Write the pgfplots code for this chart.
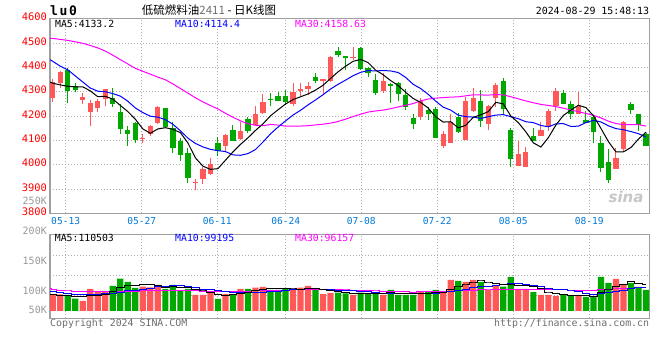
\documentclass[border=0pt]{standalone}
\usepackage{fontspec}
\setmainfont{DejaVu Sans Mono}
\newfontfamily\cjk{Noto Sans CJK SC}
\newfontfamily\dsans{DejaVu Sans}
\usepackage{pgfplots}
\usepackage{pgfplotstable}
\pgfplotsset{compat=1.18}
\definecolor{upred}{RGB}{255,88,88}
\definecolor{dngreen}{RGB}{0,168,0}
\definecolor{maone}{RGB}{0,0,0}
\definecolor{matwo}{RGB}{0,0,255}
\definecolor{mathree}{RGB}{255,0,255}
\definecolor{tickblue}{RGB}{0,120,215}
\definecolor{pricered}{RGB}{255,0,0}
\definecolor{lblgray}{RGB}{153,153,153}
\definecolor{txtgray}{RGB}{110,110,110}
\definecolor{bordergray}{RGB}{160,160,160}
\definecolor{gridgray}{RGB}{175,175,175}

% i open high low close (up candles: close > open)
\pgfplotstableread{
i o h l c
0 4275 4351 4257 4339
1 4335 4384 4316 4379
4 4266 4293 4248 4277
5 4217 4264 4160 4254
6 4233 4271 4217 4260
7 4271 4313 4241 4309
12 4104 4128 4089 4109
13 4128 4164 4117 4158
14 4172 4240 4166 4236
19 3925 3942 3894 3928
20 3943 3992 3920 3984
21 3960 4029 3958 4003
23 4078 4128 4058 4120
25 4105 4175 4101 4138
27 4165 4240 4161 4207
28 4213 4289 4207 4256
32 4248 4335 4240 4300
33 4303 4335 4281 4313
34 4311 4339 4285 4322
36 4345 4354 4289 4353
37 4343 4447 4339 4441
40 4437 4482 4430 4444
44 4301 4376 4294 4342
49 4196 4275 4183 4262
52 4077 4138 4069 4128
53 4090 4207 4089 4175
55 4103 4278 4101 4260
56 4221 4316 4217 4275
58 4167 4244 4142 4240
59 4274 4335 4235 4326
62 3996 4097 3995 4044
63 3992 4074 3991 4052
65 4119 4175 4118 4142
66 4154 4229 4137 4220
67 4240 4316 4221 4301
70 4209 4297 4208 4240
75 3984 4067 3983 4028
76 4064 4180 4055 4175
}\upC

% down candles: close < open
\pgfplotstableread{
i o h l c
2 4390 4396 4254 4301
3 4324 4335 4297 4305
8 4274 4316 4237 4248
9 4217 4248 4128 4147
10 4142 4160 4078 4128
11 4171 4175 4090 4103
15 4232 4232 4153 4154
16 4152 4175 4048 4069
17 4097 4111 4017 4041
18 4048 4067 3923 3947
22 4089 4115 4036 4056
24 4142 4162 4097 4099
26 4186 4194 4131 4139
29 4271 4294 4240 4264
30 4284 4300 4260 4262
31 4284 4308 4245 4256
35 4362 4376 4335 4343
38 4469 4482 4441 4449
39 4448 4448 4390 4437
41 4480 4482 4390 4392
42 4398 4400 4362 4376
43 4349 4371 4285 4294
45 4330 4335 4254 4324
46 4335 4339 4260 4290
47 4285 4312 4224 4237
48 4191 4210 4147 4167
50 4224 4237 4183 4207
51 4228 4237 4109 4111
54 4194 4213 4131 4135
57 4260 4305 4156 4180
60 4342 4357 4203 4228
61 4142 4150 3990 4025
64 4118 4150 4097 4099
68 4293 4308 4248 4250
69 4251 4262 4186 4210
71 4183 4220 4170 4172
72 4194 4199 4088 4135
73 4088 4118 3968 3988
74 4011 4063 3926 3938
77 4248 4258 4210 4224
78 4207 4208 4139 4162
79 4126 4131 4077 4078
}\dnC

\pgfplotstableread{
i ma5 ma10 ma30
-0.4 4340 4432 4520
0 4335 4425 4519
1 4328 4405 4515
2 4322 4390 4511
3 4320 4365 4505
4 4320.2 4340 4499
5 4303.2 4315 4490
6 4279.4 4302 4480
7 4281.0 4300 4467
8 4269.6 4292 4450
9 4243.6 4281.9 4432
10 4218.4 4260.8 4414
11 4187.0 4233.2 4396
12 4147.0 4214.0 4384
13 4129.0 4199.3 4372
14 4146.8 4195.2 4360
15 4152.0 4185.2 4349
16 4145.2 4166.1 4332
17 4131.6 4139.3 4313
18 4089.4 4109.2 4294
19 4027.8 4087.3 4275
20 3993.8 4072.9 4258
21 3980.6 4062.9 4243
22 3983.6 4057.6 4229
23 4018.2 4053.8 4211
24 4052.4 4040.1 4195
25 4083.2 4038.5 4180
26 4110.4 4045.5 4168
27 4140.6 4062.1 4162
28 4167.8 4093.0 4160
29 4200.8 4126.6 4165.3
30 4225.6 4154.4 4162.7
31 4249.0 4179.7 4158.6
32 4267.6 4204.1 4158.6
33 4279.0 4223.4 4158.8
34 4290.6 4245.7 4160.3
35 4306.8 4266.2 4163.3
36 4326.2 4287.6 4166.4
37 4354.4 4311.0 4170.8
38 4381.6 4330.3 4177.5
39 4404.6 4347.6 4187.2
40 4424.8 4365.8 4197.7
41 4432.6 4379.4 4207.3
42 4419.6 4387.0 4216.2
43 4388.6 4385.1 4220.8
44 4369.6 4387.1 4224.3
45 4345.6 4385.2 4230.0
46 4325.2 4378.9 4237.3
47 4297.4 4358.5 4243.9
48 4272.0 4330.3 4251.2
49 4256.0 4312.8 4262.3
50 4232.6 4289.1 4269.8
51 4196.8 4261.0 4273.4
52 4175.0 4236.2 4275.8
53 4176.6 4224.3 4277.6
54 4151.2 4203.6 4278.8
55 4161.8 4197.2 4282.9
56 4194.6 4195.7 4287.4
57 4205.0 4190.0 4286.5
58 4218.0 4197.3 4286.0
59 4256.2 4203.7 4288.0
60 4249.8 4205.8 4286.9
61 4199.8 4197.2 4279.2
62 4172.6 4188.8 4270.7
63 4135.0 4176.5 4262.0
64 4089.6 4172.9 4254.5
65 4072.4 4161.1 4247.8
66 4111.4 4155.6 4243.4
67 4162.8 4167.7 4238.7
68 4202.4 4168.7 4232.1
69 4224.6 4157.1 4224.5
70 4244.2 4158.3 4217.7
71 4234.6 4173.0 4210.4
72 4201.4 4182.1 4202.4
73 4149.0 4175.7 4192.2
74 4094.6 4159.6 4178.7
75 4052.2 4148.2 4168.8
76 4052.8 4143.7 4165.0
77 4070.6 4136.0 4164.6
78 4105.4 4127.2 4164.4
79 4133.4 4114.0 4158.6
}\priceMA

% volume (thousands)
\pgfplotstableread{
i v
0 69.6
1 72.5
4 43.5
5 95.7
6 84.1
7 84.1
12 105.9
13 103.0
14 113.1
19 69.6
20 69.6
21 79.8
23 73.9
25 95.7
27 101.5
28 104.4
32 95.7
33 101.5
34 108.8
36 73.9
37 78.3
40 69.6
44 69.6
49 82.6
52 82.6
53 134.9
55 126.2
56 134.9
58 91.4
59 113.1
62 95.7
63 95.7
65 69.6
66 69.6
67 65.3
70 65.3
75 139.2
76 113.1
}\volR

\pgfplotstableread{
i v
2 69.6
3 53.7
8 108.8
9 140.6
10 126.2
11 100.1
15 95.7
16 113.1
17 87.0
18 95.7
22 52.2
24 73.9
26 95.7
29 91.4
30 91.4
31 95.7
35 91.4
38 79.8
39 76.9
41 79.8
42 73.9
43 79.8
45 91.4
46 69.6
47 69.6
48 69.6
50 82.6
51 91.4
54 130.5
57 126.2
60 105.9
61 147.9
64 82.6
68 72.5
69 65.3
71 60.9
72 60.9
73 147.9
74 121.8
77 121.8
78 104.4
79 91.4
}\volG

\pgfplotstableread{
i m5 m10 m30
-0.4 71 85 96
0 70 84 95
1 68 80 90.5
2 66 76 87
3 63 72 84.5
4 61.8 70 84
5 67.0 70 84
6 69.3 72 84
7 72.2 75 84
8 83.2 78 84
9 102.7 82.2 84.5
10 108.8 87.9 85
11 112.0 90.6 86
12 116.3 94.3 87
13 115.2 99.2 87.5
14 109.7 106.2 88
15 103.6 106.2 88
16 106.2 109.1 88.5
17 102.4 109.4 88.5
18 100.9 108.0 88
19 92.2 100.9 87.5
20 87.0 95.3 86.5
21 80.3 93.3 86
22 73.4 87.9 85.6
23 69.0 85.0 85.6
24 69.9 81.1 85.6
25 75.1 81.1 85.6
26 78.3 79.3 86
27 88.1 80.8 87
28 94.2 81.6 88
29 97.7 83.8 89.0
30 96.9 86.0 89.7
31 96.9 87.6 90.5
32 95.7 91.9 91.4
33 95.1 94.7 93.0
34 98.6 98.2 95.1
35 98.6 97.8 95.0
36 94.3 95.6 94.6
37 90.8 93.3 94.5
38 86.4 90.8 93.5
39 80.1 89.3 91.4
40 75.7 87.2 89.5
41 76.9 85.6 88.8
42 76.0 83.4 87.7
43 76.0 81.2 87.0
44 74.5 77.3 85.5
45 78.9 77.3 85.4
46 76.9 76.9 83.9
47 76.0 76.0 83.3
48 74.0 75.0 82.5
49 76.6 75.6 82.9
50 74.8 76.9 83.3
51 79.2 78.0 83.7
52 81.8 78.9 84.7
53 94.8 84.4 86.8
54 104.4 90.5 88.7
55 113.1 94.0 89.7
56 121.8 100.5 91.0
57 130.5 106.2 91.8
58 121.8 108.3 91.4
59 118.4 111.4 92.1
60 114.3 113.7 92.6
61 116.9 119.4 94.3
62 110.8 120.7 94.3
63 111.7 116.8 94.1
64 105.6 112.0 93.2
65 98.3 106.3 92.5
66 82.6 99.8 92.4
67 76.6 93.7 91.9
68 71.9 91.8 91.7
69 68.5 87.0 91.3
70 67.6 83.0 91.2
71 65.9 74.3 90.5
72 65.0 70.8 90.1
73 80.1 76.0 92.4
74 91.4 79.9 94.1
75 106.1 86.9 95.7
76 116.6 91.2 97.2
77 128.8 96.9 98.9
78 120.1 100.1 100.1
79 114.0 102.7 100.4
}\volMA

\pgfplotsset{
  kpanel/.style={
    anchor=south west, scale only axis, width=599.3pt,
    xmin=-0.36, xmax=79.44,
    xtick={1.73,11.85,21.92,31.03,41.09,51.21,61.33,71.45},
    major tick length=0pt,
    xmajorgrids, ymajorgrids,
    grid style={draw=gridgray, line width=0.9pt, dash pattern=on 1pt off 2pt},
    axis line style={draw=bordergray, line width=1.3pt},
  },
  wick/.style={draw=none, mark=none, forget plot,
    error bars/.cd, y dir=plus, y explicit, error mark=none,
    error bar style={draw=#1, line width=1pt, solid}},
  body/.style={draw=none, mark=none, forget plot,
    error bars/.cd, y dir=plus, y explicit, error mark=none,
    error bar style={draw=#1, line width=5.3pt, solid}},
}

\begin{document}
\begin{tikzpicture}[x=1pt,y=1pt]
\useasboundingbox (0,0) rectangle (660,360);

\begin{axis}[kpanel, at={(50pt,146.7pt)}, height=194.6pt,
  ymin=3800, ymax=4600,
  ytick={3800,3900,4000,4100,4200,4300,4400,4500,4600},
  yticklabels={3800,3900,4000,4100,4200,4300,4400,4500,4600},
  xticklabels={05-13,05-27,06-11,06-24,07-08,07-22,08-05,08-19},
  xticklabel style={anchor=north, inner sep=0pt, yshift=-4.2pt, text=tickblue, font=\fontsize{9.6}{10}\selectfont},
  yticklabel style={anchor=east, inner sep=0pt, xshift=-3pt, yshift=1.5pt, text=pricered, font=\fontsize{10.4}{11}\selectfont},
]
\addplot[wick=upred] table[x=i, y=l, y error expr={\thisrow{h}-\thisrow{l}}] {\upC};
\addplot[body=upred] table[x=i, y=o, y error expr={\thisrow{c}-\thisrow{o}}] {\upC};
\addplot[wick=dngreen] table[x=i, y=l, y error expr={\thisrow{h}-\thisrow{l}}] {\dnC};
\addplot[body=dngreen] table[x=i, y=c, y error expr={\thisrow{o}-\thisrow{c}}] {\dnC};
\addplot[mathree, line width=1pt, mark=none] table[x=i, y=ma30] {\priceMA};
\addplot[matwo, line width=1pt, mark=none] table[x=i, y=ma10] {\priceMA};
\addplot[maone, line width=1pt, mark=none] table[x=i, y=ma5] {\priceMA};
\end{axis}

\begin{axis}[kpanel, at={(50pt,41.7pt)}, height=84pt,
  ymin=-31.8, ymax=333.6,
  ytick={69.6,156.6,243.6},
  xticklabels={,,,,,,,}, yticklabels={,,},
]
\addplot[ybar, bar width=6.2pt, bar shift=0pt, fill=upred, draw=none] table[x=i, y=v] {\volR};
\addplot[ybar, bar width=6.2pt, bar shift=0pt, fill=dngreen, draw=none] table[x=i, y=v] {\volG};
\addplot[mathree, line width=1pt, mark=none, const plot mark mid] table[x=i, y=m30] {\volMA};
\addplot[matwo, line width=1pt, mark=none, const plot mark mid] table[x=i, y=m10] {\volMA};
\addplot[maone, line width=1pt, mark=none, const plot mark mid] table[x=i, y=m5] {\volMA};
\end{axis}

% header texts
\node[anchor=west, inner sep=0pt] at (50,349.2) {\fontsize{13}{13}\selectfont\bfseries l\hspace{1.6pt}u\hspace{1.6pt}0};
\node[anchor=west, inner sep=0pt] at (141.7,350) {\cjk\fontsize{11.5}{12}\selectfont 低硫燃料油{\color{txtgray}2411} - 日K线图};
\node[anchor=east, inner sep=0pt] at (649.3,348.7) {\fontsize{9.9}{10}\selectfont 2024-08-29 15:48:13};
\node[anchor=west, inner sep=0pt, text=maone] at (55,336) {\fontsize{9.8}{10}\selectfont MA5:4133.2};
\node[anchor=west, inner sep=0pt, text=matwo] at (175,336) {\fontsize{9.8}{10}\selectfont MA10:4114.4};
\node[anchor=west, inner sep=0pt, text=mathree] at (295,336) {\fontsize{9.8}{10}\selectfont MA30:4158.63};
% volume panel texts
\node[anchor=west, inner sep=0pt, text=maone] at (54.7,122) {\fontsize{9.8}{10}\selectfont MA5:110503};
\node[anchor=west, inner sep=0pt, text=matwo] at (175,122) {\fontsize{9.8}{10}\selectfont MA10:99195};
\node[anchor=west, inner sep=0pt, text=mathree] at (295,122) {\fontsize{9.8}{10}\selectfont MA30:96157};
\node[anchor=east, inner sep=0pt, text=lblgray] at (47,129.3) {\fontsize{10}{10}\selectfont 200K};
\node[anchor=east, inner sep=0pt, text=lblgray] at (47,99.3) {\fontsize{10}{10}\selectfont 150K};
\node[anchor=east, inner sep=0pt, text=lblgray] at (47,69.3) {\fontsize{10}{10}\selectfont 100K};
\node[anchor=east, inner sep=0pt, text=lblgray] at (47,50) {\fontsize{10}{10}\selectfont 50K};
\node[anchor=east, inner sep=0pt, text=lblgray] at (47,159.2) {\fontsize{10}{10}\selectfont 250K};
% footer
\node[anchor=west, inner sep=0pt, text=txtgray] at (50,36.5) {\fontsize{9.9}{10}\selectfont Copyright 2024 SINA.COM};
\node[anchor=east, inner sep=0pt, text=txtgray] at (649.3,36.5) {\fontsize{9.9}{10}\selectfont http://finance.sina.com.cn};
% watermark
\node[inner sep=0pt, text=black!22] at (626,163) {\dsans\fontsize{15}{15}\selectfont\bfseries\itshape sina};
\end{tikzpicture}
\end{document}
